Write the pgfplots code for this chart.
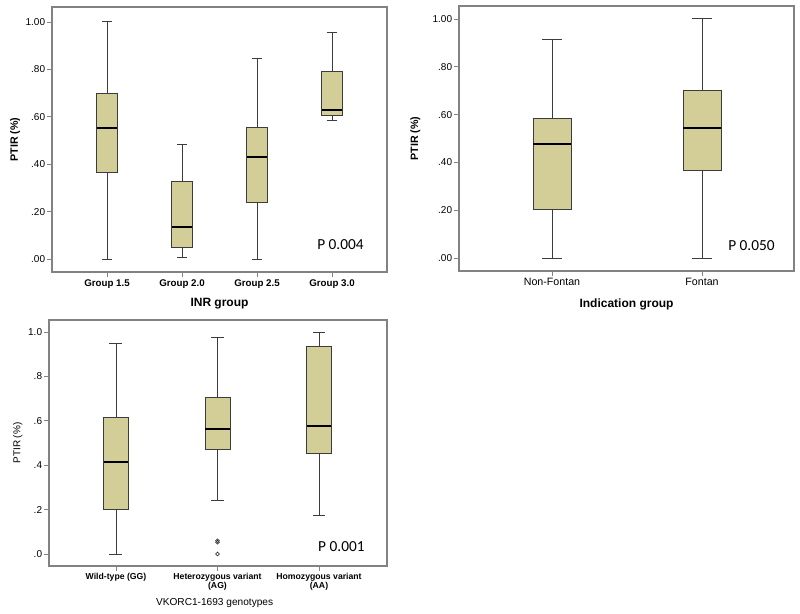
\documentclass[border=0pt]{standalone}
\usepackage{fontspec}
\setmainfont{Liberation Sans}
\newfontfamily\carlito{Carlito}
\usepackage{pgfplots}
\pgfplotsset{compat=1.18}
\usepgfplotslibrary{statistics}
\definecolor{boxfill}{RGB}{211,206,151}
\definecolor{framegray}{RGB}{130,130,130}
\definecolor{whisk}{RGB}{60,60,60}

\pgfplotsset{
  spssbox/.style={
    scale only axis,
    axis line style={framegray, line width=0.8pt},
    tick pos=left,
    tick align=outside,
    major tick length=3.5pt,
    tick style={framegray, line width=0.6pt},
    ytick={0,0.2,0.4,0.6,0.8,1},
    yticklabel style={font=\fontsize{7.5}{8}\selectfont, inner sep=1.5pt},
    xticklabel style={inner sep=2pt},
    clip=false,
    boxplot/draw direction=y,
    boxplot/every box/.style={draw=whisk, fill=boxfill, line width=0.7pt},
    boxplot/every whisker/.style={draw=whisk, line width=0.7pt},
    boxplot/every median/.style={draw=black, line width=1.5pt},
  },
}

\begin{document}
\begin{tikzpicture}
\useasboundingbox (0pt,0pt) rectangle (600pt,-460.5pt);

% INR group
\begin{axis}[spssbox,
  at={(39pt,-204pt)}, anchor=south west,
  width=251.25pt, height=198.75pt,
  xmin=0.267, xmax=4.733, ymin=-0.055, ymax=1.063,
  xtick={1,2,3,4},
  xticklabels={Group 1.5,Group 2.0,Group 2.5,Group 3.0},
  xticklabel style={font=\fontsize{7.3}{8}\selectfont\bfseries},
  yticklabels={.00,.20,.40,.60,.80,1.00},
  ylabel={PTIR (\%)}, ylabel style={font=\fontsize{8}{9}\selectfont\bfseries, at={(axis description cs:-0.11,0.5)}, anchor=center},
  xlabel={INR group}, xlabel style={font=\fontsize{9}{10}\selectfont\bfseries, at={(axis description cs:0.5,-0.121)}, anchor=center},
]
\addplot[boxplot prepared={draw position=1, lower whisker=0.0, lower quartile=0.365, median=0.554, upper quartile=0.697, upper whisker=1.0, box extend=0.27, whisker extend=0.133}] coordinates {};
\addplot[boxplot prepared={draw position=2, lower whisker=0.006, lower quartile=0.049, median=0.133, upper quartile=0.327, upper whisker=0.485, box extend=0.27, whisker extend=0.133}] coordinates {};
\addplot[boxplot prepared={draw position=3, lower whisker=0.0, lower quartile=0.240, median=0.432, upper quartile=0.555, upper whisker=0.847, box extend=0.27, whisker extend=0.133}] coordinates {};
\addplot[boxplot prepared={draw position=4, lower whisker=0.586, lower quartile=0.604, median=0.628, upper quartile=0.791, upper whisker=0.955, box extend=0.27, whisker extend=0.133}] coordinates {};
\node[anchor=west, inner sep=0pt, font=\carlito\fontsize{11.5}{12}\selectfont] at (axis cs:3.8,0.059) {P 0.004};
\end{axis}

% Indication group
\begin{axis}[spssbox,
  at={(344.25pt,-203.25pt)}, anchor=south west,
  width=251.25pt, height=198.75pt,
  xmin=0.38, xmax=2.613, ymin=-0.054, ymax=1.054,
  xtick={1,2},
  xticklabels={Non-Fontan,Fontan},
  xticklabel style={font=\fontsize{8}{9}\selectfont},
  yticklabels={.00,.20,.40,.60,.80,1.00},
  ylabel={PTIR (\%)}, ylabel style={font=\fontsize{8}{9}\selectfont\bfseries, at={(axis description cs:-0.13,0.5)}, anchor=center},
  xlabel={Indication group}, xlabel style={font=\fontsize{9}{10}\selectfont\bfseries, at={(axis description cs:0.5,-0.125)}, anchor=center},
]
\addplot[boxplot prepared={draw position=1, lower whisker=0.0, lower quartile=0.205, median=0.475, upper quartile=0.584, upper whisker=0.912, box extend=0.253, whisker extend=0.133}] coordinates {};
\addplot[boxplot prepared={draw position=2, lower whisker=0.0, lower quartile=0.365, median=0.542, upper quartile=0.700, upper whisker=1.0, box extend=0.253, whisker extend=0.133}] coordinates {};
\node[anchor=west, inner sep=0pt, font=\carlito\fontsize{11.5}{12}\selectfont] at (axis cs:2.173,0.054) {P 0.050};
\end{axis}

% VKORC1 genotypes
\begin{axis}[spssbox,
  at={(36.75pt,-424.5pt)}, anchor=south west,
  width=253.5pt, height=184.5pt,
  xmin=0.34, xmax=3.67, ymin=-0.054, ymax=1.054,
  xtick={1,2,3},
  xticklabels={Wild-type (GG),{Heterozygous variant\\(AG)},{Homozygous variant\\(AA)}},
  xticklabel style={font=\fontsize{6.5}{6.8}\selectfont\bfseries, align=center},
  yticklabels={.0,.2,.4,.6,.8,1.0},
  ylabel={PTIR (\%)}, ylabel style={font=\fontsize{7.5}{8}\selectfont, at={(axis description cs:-0.092,0.5)}, anchor=center},
  xlabel={VKORC1-1693 genotypes}, xlabel style={font=\fontsize{7.6}{8}\selectfont, at={(axis description cs:0.49,-0.150)}, anchor=center},
]
\addplot[boxplot prepared={draw position=1, lower whisker=0.0, lower quartile=0.201, median=0.413, upper quartile=0.616, upper whisker=0.950, box extend=0.246, whisker extend=0.128}] coordinates {};
\addplot[boxplot prepared={draw position=2, lower whisker=0.241, lower quartile=0.472, median=0.562, upper quartile=0.707, upper whisker=0.977, box extend=0.246, whisker extend=0.128}] coordinates {};
\addplot[boxplot prepared={draw position=3, lower whisker=0.174, lower quartile=0.452, median=0.575, upper quartile=0.937, upper whisker=1.0, box extend=0.246, whisker extend=0.128}] coordinates {};
\addplot[only marks, mark=o, mark size=1.4pt, mark options={draw=whisk, line width=0.5pt}] coordinates {(2,0.060) (2,0.053) (2,0.0)};
\node[anchor=west, inner sep=0pt, font=\carlito\fontsize{11.5}{12}\selectfont] at (axis cs:2.99,0.034) {P 0.001};
\end{axis}
\end{tikzpicture}
\end{document}
